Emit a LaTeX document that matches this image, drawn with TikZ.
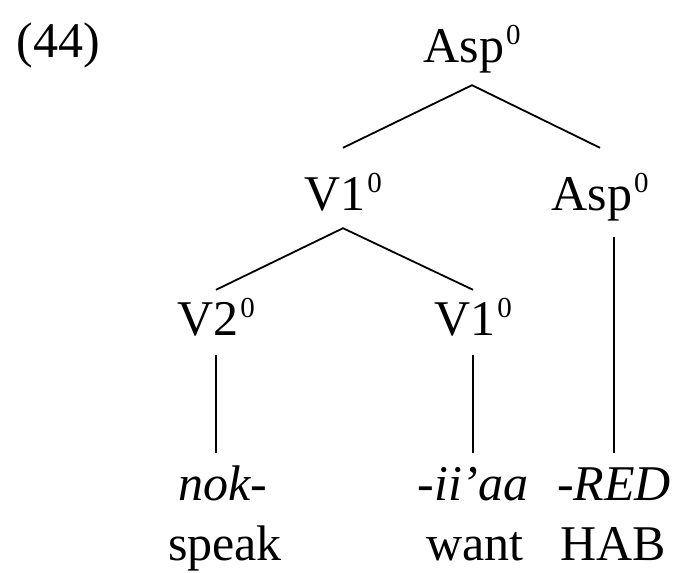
\documentclass[tikz,border=0pt]{standalone}
\usepackage{fontspec}
\setmainfont{Liberation Serif}
\usetikzlibrary{positioning,calc}
\newcommand{\barz}{\kern2pt\raisebox{18pt}{\fontsize{29}{29}\selectfont 0}}
\begin{document}
\begin{tikzpicture}[x=1pt,y=-1pt]
  \tikzstyle{lbl}=[inner sep=0pt, anchor=base, text height=34pt, text depth=12pt, font=\fontsize{50}{60}\selectfont]
  \tikzstyle{morph}=[lbl, font=\fontsize{50}{60}\selectfont\itshape]
  \tikzstyle{branch}=[line width=1.8pt]
  \useasboundingbox (0,0) rectangle (676,572);

  \node[lbl] (ex) at (58,58) {(44)};

  % categorias
  \node[lbl] (asptop) at (472,63) {Asp\barz};
  \node[lbl] (v1a) at (343,210) {V1\barz};
  \node[lbl] (aspb) at (600,210) {Asp\barz};
  \node[lbl] (v2) at (216,335) {V2\barz};
  \node[lbl] (v1b) at (473,335) {V1\barz};

  % morfemas y glosas
  \node[morph] (nok) at (223,500) {nok-};
  \node[morph] (iiaa) at (473,500) {-ii’aa};
  \node[morph] (red) at (614,500) {-RED};
  \node[lbl] (speak) at (225,560) {speak};
  \node[lbl] (want) at (475,560) {want};
  \node[lbl] (hab) at (613,560) {HAB};

  \draw[branch] ([yshift=28pt]v1a.north) -- ([yshift=-10pt]asptop.south) -- ([yshift=28pt]aspb.north);
  \draw[branch] ([yshift=11pt]v2.north) -- ([yshift=-6pt]v1a.south) -- ([yshift=11pt]v1b.north);
  \draw[branch] ([yshift=-8pt]v2.south) -- ([yshift=13pt]v2.south |- nok.north);
  \draw[branch] ([yshift=-8pt]v1b.south) -- ([yshift=13pt]v1b.south |- iiaa.north);
  \draw[branch] ([yshift=-15pt]red.north |- aspb.south) -- ([yshift=13pt]red.north);
\end{tikzpicture}
\end{document}
